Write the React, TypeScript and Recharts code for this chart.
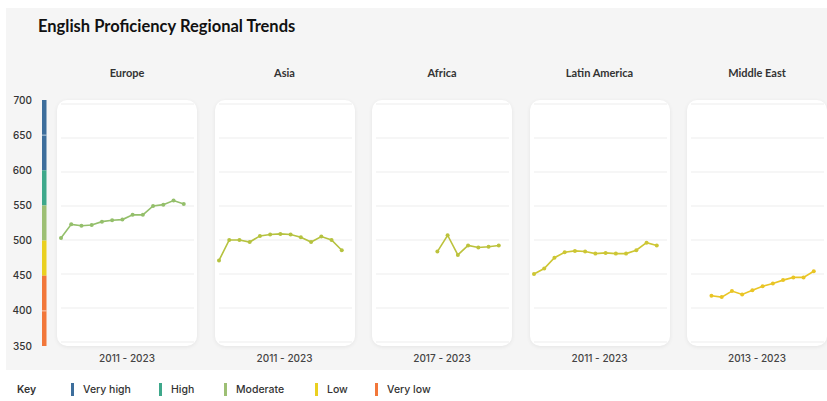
import React from 'react';
import {
    LineChart,
    Line,
    XAxis,
    YAxis,
    CartesianGrid,
    ReferenceArea,
} from 'recharts';

// EF EPI style regional scores
const europeScores = [503, 523, 521, 522, 527, 529, 530, 537, 537, 550, 552, 558, 553];
const asiaScores = [470, 500, 500, 497, 506, 508, 509, 508, 504, 497, 505, 500, 485];
const africaScores = [483, 507, 478, 492, 489, 490, 492];
const latamScores = [450, 458, 474, 482, 484, 483, 480, 481, 480, 480, 485, 496, 492];
const middleEastScores = [418, 416, 425, 420, 426, 432, 436, 441, 445, 445, 454];

const regionNames = ['Europe', 'Asia', 'Africa', 'Latin America', 'Middle East'];
const regionStartYears = [2011, 2011, 2017, 2011, 2013];
const regionRanges = ['2011 - 2023', '2011 - 2023', '2017 - 2023', '2011 - 2023', '2013 - 2023'];
const regionColors = ['#94bf6b', '#b5c23f', '#bcc23c', '#cdc634', '#e9c525'];
const regionScores = [europeScores, asiaScores, africaScores, latamScores, middleEastScores];

const scoreTicks = [350, 400, 450, 500, 550, 600, 650, 700];
const gridTicks = [400, 450, 500, 550, 600, 650];

const bandNames = ['Very high', 'High', 'Moderate', 'Low', 'Very low'];
const bandColors = ['#3d6e9c', '#3ea88b', '#9dbf74', '#ead020', '#f2773a'];
const bandFrom = [600, 550, 500, 450, 350];
const bandTo = [700, 600, 550, 500, 450];

const SCORE_DOMAIN: [number, number] = [350, 700];
const YEAR_DOMAIN: [number, number] = [2011, 2024];

const CARD_W = 140;
const CARD_H = 246;
const CARD_TOP = 100;
const cardLeft = (i: number) => 57 + i * 157.5;

const labelFont = 'Inter, "Open Sans", sans-serif';

function ScaleAxis() {
    // left score axis with the coloured proficiency bands
    const data = [
        { x: 0, s: SCORE_DOMAIN[0] },
        { x: 10, s: SCORE_DOMAIN[1] },
    ];
    return (
        <div style={{ position: 'absolute', left: 0, top: 94 }}>
            <LineChart width={50} height={258} data={data} margin={{ top: 6, right: 0, bottom: 6, left: 0 }}>
                <XAxis type="number" dataKey="x" domain={[0, 10]} hide />
                <YAxis
                    type="number"
                    domain={SCORE_DOMAIN}
                    ticks={scoreTicks}
                    width={40}
                    axisLine={false}
                    tickLine={false}
                    tickSize={0}
                    tickMargin={8}
                    interval={0}
                    tick={{ fill: '#333', fontSize: 10, fontFamily: labelFont, fontWeight: 500 }}
                />
                {bandNames.map((name, i) => (
                    <ReferenceArea
                        key={name}
                        x1={2}
                        x2={6.5}
                        y1={bandFrom[i]}
                        y2={bandTo[i]}
                        fill={bandColors[i]}
                        fillOpacity={1}
                        stroke="none"
                        ifOverflow="visible"
                    />
                ))}
                {[400, 650].map((v) => (
                    <ReferenceArea
                        key={v}
                        x1={2}
                        x2={6.5}
                        y1={v - 0.8}
                        y2={v + 0.8}
                        fill="#ffffff"
                        fillOpacity={0.6}
                        stroke="none"
                        ifOverflow="visible"
                    />
                ))}
                <Line dataKey="s" stroke="none" dot={false} activeDot={false} isAnimationActive={false} />
            </LineChart>
        </div>
    );
}

function RegionCard({ index }: { index: number }) {
    const start = regionStartYears[index];
    const data = regionScores[index].map((score, i) => ({ year: start + i, score }));
    const color = regionColors[index];
    const left = cardLeft(index);
    return (
        <>
            <div
                style={{
                    position: 'absolute',
                    left,
                    top: 66,
                    width: CARD_W,
                    textAlign: 'center',
                    fontFamily: 'Lato, "Open Sans", sans-serif',
                    fontWeight: 700,
                    fontSize: 11,
                    color: '#333',
                }}
            >
                {regionNames[index]}
            </div>
            <div
                style={{
                    position: 'absolute',
                    left,
                    top: CARD_TOP,
                    width: CARD_W,
                    height: CARD_H,
                    background: '#fff',
                    borderRadius: 10,
                    boxShadow: '0 1px 4px rgba(0,0,0,0.07)',
                }}
            >
                <LineChart width={CARD_W} height={CARD_H} data={data} margin={{ top: 4, right: 3, bottom: 4, left: 4 }}>
                    <CartesianGrid vertical={false} stroke="#ededed" strokeWidth={1} />
                    <XAxis type="number" dataKey="year" domain={YEAR_DOMAIN} hide />
                    <YAxis type="number" domain={SCORE_DOMAIN} ticks={gridTicks} hide />
                    <Line
                        type="linear"
                        dataKey="score"
                        stroke={color}
                        strokeWidth={1.6}
                        dot={{ r: 2, fill: color, stroke: color, strokeWidth: 0 }}
                        isAnimationActive={false}
                    />
                </LineChart>
            </div>
            <div
                style={{
                    position: 'absolute',
                    left,
                    top: 352,
                    width: CARD_W,
                    textAlign: 'center',
                    fontFamily: labelFont,
                    fontWeight: 500,
                    fontSize: 10,
                    color: '#444',
                }}
            >
                {regionRanges[index]}
            </div>
        </>
    );
}

const legendX = [71, 159, 224, 315, 375];

export default function App() {
    return (
        <div
            style={{
                position: 'absolute',
                left: 0,
                top: 0,
                width: 827,
                height: 401,
                background: '#fff',
                overflow: 'hidden',
            }}
        >
            <div style={{ position: 'absolute', left: 6, top: 8, width: 821, height: 362, background: '#f5f5f5' }} />
            <div
                style={{
                    position: 'absolute',
                    left: 38,
                    top: 16,
                    fontFamily: 'Lato, "Open Sans", sans-serif',
                    fontWeight: 700,
                    fontSize: 16.5,
                    color: '#111',
                }}
            >
                English Proficiency Regional Trends
            </div>
            <ScaleAxis />
            {regionNames.map((name, i) => (
                <RegionCard key={name} index={i} />
            ))}
            <div
                style={{
                    position: 'absolute',
                    left: 17,
                    top: 383,
                    fontFamily: labelFont,
                    fontWeight: 600,
                    fontSize: 10.5,
                    color: '#333',
                }}
            >
                Key
            </div>
            {bandNames.map((name, i) => (
                <div key={name} style={{ position: 'absolute', left: legendX[i], top: 383, height: 14 }}>
                    <div style={{ position: 'absolute', left: 0, top: 0, width: 3, height: 13, background: bandColors[i] }} />
                    <div
                        style={{
                            position: 'absolute',
                            left: 12,
                            top: 0,
                            whiteSpace: 'nowrap',
                            fontFamily: labelFont,
                            fontWeight: 500,
                            fontSize: 10.5,
                            color: '#333',
                        }}
                    >
                        {name}
                    </div>
                </div>
            ))}
        </div>
    );
}
